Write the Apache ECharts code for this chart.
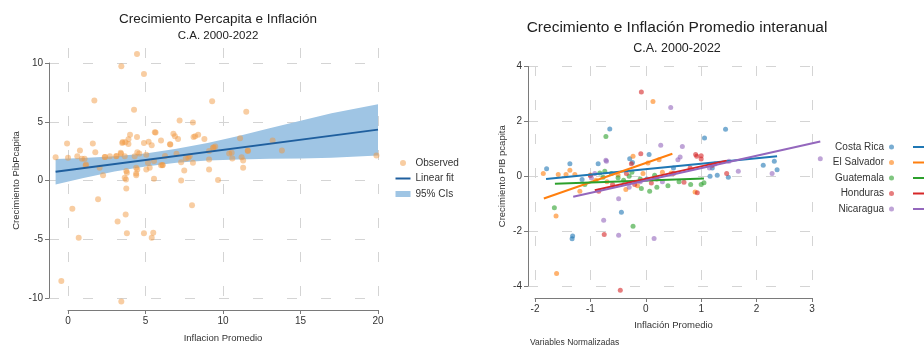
<!DOCTYPE html>
<html>
<head>
<meta charset="utf-8">
<script src="https://cdn.jsdelivr.net/npm/echarts/dist/echarts.min.js"></script>
<style>
  html, body { margin: 0; padding: 0; background: #fff; }
  #chart { width: 924px; height: 348px; }
</style>
</head>
<body>
<div id="chart"></div>
<script>
/* ===== Crecimiento e Inflación, C.A. 2000-2022 ===== */

// panel izquierdo: inflación promedio vs crecimiento pib per cápita
const obsX = [4.45, 3.44, 4.9, 1.7, 9.3, 4.26, 11.5, 7.2, 8.06, 5.6, 5.65, 4.0, 6.8, 6.9, 8.4, 8.2, 8.1, 8.8, 7.1, 11.1,
    4.45, 3.9, 3.7, 3.9, 3.5, 1.6, -0.06, 6.0, 4.9, 5.2, 6.6, 5.4, 1.76, 0.77, 9.5, 9.35, 13.2, 13.8, 11.6, 10.4,
    9.1, 4.47, 4.6, 3.4, 3.1, 2.7, 2.37, 0.6, 0.9, 1.07, 0, -0.8, 5.05, 3.66, 4.3, 7.0, 10.6, 11.2, 11.3, 9.1,
    19.9, 7.85, 7.6, 7.3, 8.06, 6.1, 6.0, 5.16, 5.27, 5.05, 4.4, 3.76, 3.8, 4.4, 4.4, 2.04, 1.14, 2.26, 3.66, 5.55,
    7.3, 7.5, 9.1, 9.68, 11.3, 3.76, 8.0, 0.28, 1.94, 3.72, 3.2, 3.8, 4.9, 5.5, 5.4, 0.69, -0.43, 3.44,
    1.16, 2.39, 3.14, 3.42, 3.53, 3.74, 4.47, 6.26, 6.58, 7.76, 9.4, 10.56, 11.6, 5.55, 6.1];
const obsY = [10.76, 9.72, 9.07, 6.8, 6.74, 6.03, 5.86, 5.1, 4.93, 4.1, 4.08, 3.9, 3.97, 3.77, 3.9, 3.77, 3.7, 3.54, 3.54, 3.6,
    3.7, 3.5, 3.26, 3.1, 3.2, 3.14, 3.14, 3.4, 3.2, 3.3, 3.06, 3.0, 2.4, 2.55, 2.9, 2.78, 3.4, 2.55, 2.5, 2.3,
    2.5, 2.4, 2.3, 2.35, 2.07, 2.07, 2.0, 2.07, 1.84, 1.84, 1.93, 1.98, 2.2, 2.07, 2.07, 2.27, 1.87, 1.98, 1.7, 1.78,
    2.12, 2.07, 1.87, 1.56, 1.5, 1.3, 1.3, 1.5, 1.08, 0.93, 1.08, 0.8, 0.65, 0.6, 0.45, 1.08, 1.27, 0.45, 0.23, 0.14,
    0, 0.85, 0.93, 0.03, 1.08, -0.68, -2.1, -2.4, -1.6, -2.9, -3.5, -4.5, -4.5, -4.45, -4.87, -4.87, -8.55, -10.3,
    1.37, 2.0, 2.08, 2.28, 3.27, 0.08, 0.94, 2.08, 3.08, 1.94, 2.8, 2.37, 2.56, 1.65, 1.31];

// recta de ajuste y banda de confianza 95%
const fitX = [-0.8, 20];
const fitY = [0.75, 4.33];
const ciX = [-0.8, 1, 3, 5, 7, 9, 11, 13, 15, 17, 20];
const ciUp = [1.82, 1.91, 2.06, 2.3, 2.7, 3.2, 3.79, 4.44, 5.08, 5.73, 6.5];
const ciLo = [-0.35, 0.21, 0.76, 1.2, 1.5, 1.7, 1.79, 1.84, 1.88, 1.93, 2.12];

// panel derecho: variables normalizadas por país
const countries = ["Costa Rica", "El Salvador", "Guatemala", "Honduras", "Nicaragua"];
const costaRica = [[-1.79, 0.27], [-1.37, 0.46], [-0.86, 0.46], [-0.65, 1.72], [-0.29, 0.64], [-0.24, 0.5], [0.06, 0.79],
    [1.44, 1.71], [1.06, 1.39], [2.12, 0.4], [2.32, 0.55], [2.37, 0.24], [1.49, -0.04], [1.29, 0.04], [1.16, 0],
    [-1.32, -2.18], [-1.33, -2.28], [-0.44, -1.31], [-1.15, -0.12], [0.02, -0.1], [0.5, 0.3], [1.2, 0.3]];
const elSalvador = [[-1.85, 0.1], [-1.58, 0.06], [-1.37, 0.22], [-1.44, 0.06], [-1.28, 0.06], [-1.19, -0.55], [-1.62, -1.45],
    [-1.61, -3.54], [-0.23, 0.73], [0.24, 0.6], [0.04, 0.48], [0.13, 2.72], [0.46, 0.12], [-0.36, -0.48], [-0.9, -0.15],
    [-0.5, 0.05], [0.89, -0.57], [-0.7, -0.2], [-0.15, -0.35], [0.3, 0.15], [-0.05, 0.1], [-1.0, 0.05]];
const guatemala = [[-0.72, 1.45], [-1.65, -1.15], [-0.23, -1.82], [-0.08, -0.45], [0.07, -0.55], [0.81, -0.3], [1.0, -0.3],
    [1.05, -0.24], [-0.83, 0.12], [-0.77, -0.04], [-0.62, 0.1], [-0.74, 0.18], [0.16, 0.04], [-0.4, -0.15], [-0.3, 0.0],
    [0.4, -0.35], [-0.1, -0.1], [0.6, -0.2], [-1.1, -0.3], [0.2, -0.4], [-0.5, -0.05], [-0.25, 0.15]];
const honduras = [[-0.08, 3.07], [0.9, 0.79], [0.92, 0.73], [1.0, 0.75], [1.0, 0.63], [1.46, 0.1], [-0.09, 0.82],
    [-0.75, -2.12], [-0.46, -4.15], [0.69, -0.22], [0.93, -0.6], [-1.0, 0.02], [-0.26, 0.46], [-0.6, -0.3], [-0.2, -0.3],
    [0.2, -0.1], [0.5, 0.1], [1.2, 0.4], [-0.35, 0.1], [0.1, -0.25], [0.8, 0.3], [-0.85, -0.55]];
const nicaragua = [[0.45, 2.51], [0.27, 1.13], [0.66, 1.08], [3.15, 0.64], [2.28, 0.1], [1.67, 0.18], [0.62, 0.7],
    [0.58, 0.6], [-0.71, 0.55], [-0.72, 0.58], [-0.98, -0.06], [-0.92, 0.1], [-0.49, -0.82], [-0.76, -1.6], [-0.49, -2.15],
    [0.15, -2.27], [1.15, 0.3], [1.25, 0.45], [-0.1, -0.2], [0.3, -0.2], [1.5, 0.55], [-0.3, -0.4]];
const countryPoints = [costaRica, elSalvador, guatemala, honduras, nicaragua];

// extremos de cada recta de ajuste
const lineX0 = [-1.8, -1.84, -1.64, -0.92, -1.31];
const lineY0 = [-0.1, -0.81, -0.27, -0.51, -0.75];
const lineX1 = [2.37, 0.48, 1.05, 1.46, 3.15];
const lineY1 = [0.73, 0.82, -0.08, 0.57, 1.27];

const leftTicksX = [0, 20];
const leftTicksY = [-10, 10];
const rightTicksX = [-2, 3];
const rightTicksY = [-4, 4];

const COLORS = ["#1f77b4", "#ff7f0e", "#2ca02c", "#d62728", "#9467bd"];
const FONT = "Liberation Sans";
const GRID_LINE = { show: true, lineStyle: { color: "#d4d4d4", width: 1, type: [10, 24] } };
const AXIS_LINE = { show: true, lineStyle: { color: "#7a7a7a", width: 1 } };
const AXIS_TICK = { show: true, length: 4, lineStyle: { color: "#7a7a7a" } };
const LABEL = { color: "#333", fontSize: 10, fontFamily: FONT };
const NAME = { color: "#333", fontSize: 9.5, fontFamily: FONT };

function hiddenAxis(grid, min, max) {
    return { type: "value", gridIndex: grid, show: false, min, max, splitLine: { show: false } };
}

const chart = echarts.init(document.getElementById("chart"));

const series = [
    {
        type: "custom", name: "95% CIs", xAxisIndex: 0, yAxisIndex: 0, silent: true, z: 1,
        data: [[0, 0]],
        itemStyle: { color: "#9fc5e4" },
        renderItem: (params, api) => {
            const top = ciX.map((x, i) => api.coord([x, ciUp[i]]));
            const bottom = ciX.map((x, i) => api.coord([x, ciLo[i]])).reverse();
            return { type: "polygon", shape: { points: top.concat(bottom) }, style: { fill: "#9fc5e4" } };
        },
    },
    {
        type: "scatter", name: "Observed", xAxisIndex: 0, yAxisIndex: 0, z: 3,
        symbolSize: 6,
        itemStyle: { color: "rgba(240,150,60,0.6)" },
        data: obsX.map((x, i) => [x, obsY[i]]),
    },
    {
        type: "line", name: "Linear fit", xAxisIndex: 0, yAxisIndex: 0, z: 4,
        symbol: "none",
        lineStyle: { color: "#1f5f9e", width: 2 },
        itemStyle: { color: "#1f5f9e" },
        data: fitX.map((x, i) => [x, fitY[i]]),
    },
];

countries.forEach((c, i) => {
    series.push({
        type: "scatter", name: c, xAxisIndex: 3, yAxisIndex: 3, z: 3,
        symbolSize: 5,
        itemStyle: { color: COLORS[i], opacity: 0.6 },
        data: countryPoints[i],
    });
});
countries.forEach((c, i) => {
    series.push({
        type: "line", name: c + " fit", xAxisIndex: 3, yAxisIndex: 3, z: 4,
        symbol: "none",
        lineStyle: { color: COLORS[i], width: 2 },
        itemStyle: { color: COLORS[i] },
        data: [[lineX0[i], lineY0[i]], [lineX1[i], lineY1[i]]],
    });
});

chart.setOption({
    animation: false,
    textStyle: { fontFamily: FONT },
    title: [
        { text: "Crecimiento Percapita e Inflación", left: 218, top: 12, textAlign: "center", padding: 0,
          textStyle: { fontSize: 13.5, fontWeight: "normal", color: "#222", fontFamily: FONT } },
        { text: "C.A. 2000-2022", left: 218, top: 30, textAlign: "center", padding: 0,
          textStyle: { fontSize: 11.5, fontWeight: "normal", color: "#222", fontFamily: FONT } },
        { text: "Crecimiento e Inflación Promedio interanual", left: 677, top: 20, textAlign: "center", padding: 0,
          textStyle: { fontSize: 15.5, fontWeight: "normal", color: "#222", fontFamily: FONT } },
        { text: "C.A. 2000-2022", left: 677, top: 42, textAlign: "center", padding: 0,
          textStyle: { fontSize: 12.5, fontWeight: "normal", color: "#222", fontFamily: FONT } },
        { text: "Variables Normalizadas", left: 530, top: 338, padding: 0,
          textStyle: { fontSize: 8.5, fontWeight: "normal", color: "#333", fontFamily: FONT } },
    ],
    legend: [
        {
            orient: "vertical", left: 395.5, top: 156, padding: 0, itemGap: 1.5,
            itemWidth: 15, itemHeight: 6, selectedMode: false,
            textStyle: { fontSize: 10, lineHeight: 14, color: "#333", fontFamily: FONT },
            data: [
                { name: "Observed", icon: "circle" },
                { name: "Linear fit", icon: "path://M0,0H15V2H0Z" },
                { name: "95% CIs", icon: "rect" },
            ],
        },
        {
            orient: "vertical", right: 30, top: 140, padding: 0, itemGap: 1.5, align: "right",
            itemWidth: 5, itemHeight: 5, selectedMode: false, icon: "circle",
            textStyle: { fontSize: 10, lineHeight: 14, color: "#333", fontFamily: FONT },
            data: countries,
        },
        {
            orient: "vertical", left: 913, top: 140, padding: 0, itemGap: 1.5,
            itemWidth: 14, itemHeight: 2, selectedMode: false, icon: "rect",
            formatter: () => " ",
            textStyle: { fontSize: 10, lineHeight: 14 },
            data: countries.map(c => c + " fit"),
        },
    ],
    grid: [
        { left: 49, top: 48, width: 331, height: 262 },
        { left: 49, top: 63, width: 331, height: 235 },
        { left: 68, top: 48, width: 310, height: 262 },
        { left: 528, top: 60, width: 297, height: 238 },
        { left: 528, top: 66.5, width: 297, height: 219.5 },
        { left: 535, top: 66, width: 277, height: 232 },
    ],
    xAxis: [
        hiddenAxis(0, -1.226, 20.129),
        hiddenAxis(1, 0, 1),
        {
            type: "value", gridIndex: 2, min: leftTicksX[0], max: leftTicksX[1], interval: 5,
            axisLine: AXIS_LINE, axisTick: AXIS_TICK, axisLabel: { ...LABEL, margin: 6 },
            splitLine: GRID_LINE,
            name: "Inflacion Promedio", nameLocation: "middle", nameGap: 23, nameTextStyle: NAME,
        },
        hiddenAxis(3, -2.126, 3.235),
        hiddenAxis(4, 0, 1),
        {
            type: "value", gridIndex: 5, min: rightTicksX[0], max: rightTicksX[1], interval: 1,
            axisLine: AXIS_LINE, axisTick: AXIS_TICK, axisLabel: { ...LABEL, margin: 6 },
            splitLine: GRID_LINE,
            name: "Inflación Promedio", nameLocation: "middle", nameGap: 22, nameTextStyle: NAME,
        },
    ],
    yAxis: [
        hiddenAxis(0, -11.03, 11.28),
        {
            type: "value", gridIndex: 1, min: leftTicksY[0], max: leftTicksY[1], interval: 5,
            axisLine: AXIS_LINE, axisTick: AXIS_TICK, axisLabel: { ...LABEL, margin: 6 },
            splitLine: GRID_LINE,
            name: "Crecimiento PibPcapita", nameLocation: "middle", nameGap: 28, nameTextStyle: NAME,
        },
        hiddenAxis(2, 0, 1),
        hiddenAxis(3, -4.437, 4.237),
        {
            type: "value", gridIndex: 4, min: rightTicksY[0], max: rightTicksY[1], interval: 2,
            axisLine: AXIS_LINE, axisTick: AXIS_TICK, axisLabel: { ...LABEL, margin: 6 },
            splitLine: GRID_LINE,
            name: "Crecimiento PIB pcapita", nameLocation: "middle", nameGap: 21, nameTextStyle: NAME,
        },
        hiddenAxis(5, 0, 1),
    ],
    series,
});
</script>
</body>
</html>
